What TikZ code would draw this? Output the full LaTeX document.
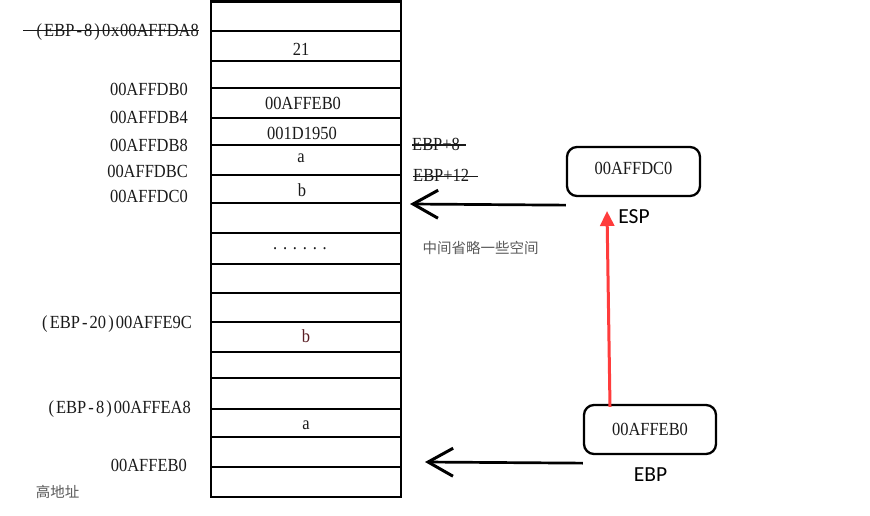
\documentclass[tikz,border=0pt]{standalone}
\usepackage{fontspec}
\setmainfont{Liberation Serif}[FakeStretch=0.89]
\newfontfamily\cjkf{Noto Sans CJK SC}
\newfontfamily\lblf{Carlito}
\usetikzlibrary{arrows.meta}
\definecolor{txt}{HTML}{1A1A1A}
\definecolor{maroon}{HTML}{5A1E24}
\definecolor{redarr}{HTML}{FF3C3C}
\definecolor{cjkgray}{HTML}{5A5A5A}
\newcommand{\widep}[1]{\kern2.1pt#1\kern2.1pt}
\tikzset{
  lbl/.style={font=\fontsize{18.5}{20}\selectfont, inner sep=0pt, text=txt},
  cjk/.style={font=\cjkf\fontsize{14.5}{16}\selectfont, inner sep=0pt, text=cjkgray},
  sl/.style={font=\lblf\fontsize{21.5}{24}\selectfont, inner sep=0pt, text=black},
  cellline/.style={draw=black, line width=2.4pt},
  strike/.style={draw=txt, line width=1.1pt},
  membox/.style={draw=black, line width=2.3pt, rounded corners=10pt,
    font=\fontsize{18.5}{20}\selectfont, text=txt, text height=12.5pt, inner sep=0pt},
  blackarrow/.style={draw=black, line width=2.7pt,
    -{Straight Barb[length=25pt, width=28pt, line width=3pt]}},
  redarrow/.style={draw=redarr, line width=3pt,
    -{Triangle[length=15pt, width=14pt]}}
}
\begin{document}
\begin{tikzpicture}[x=1pt,y=-1pt]
\useasboundingbox[fill=white] (0,0) rectangle (870,516);

% memory column
\foreach \a/\b in {1.5/31,31/61,61/88,88/118,118/145,145/175,175/203,203/233,233/264,264/293,293/322,322/352,352/378,378/409,409/437,437/467,467/497}
  \draw[cellline] (211,\a) rectangle (401,\b);

% cell contents
\node[lbl, anchor=base] (v21) at (301,56) {21};
\node[lbl, anchor=base] (vebp) at (303,110) {00AFFEB0};
\node[lbl, anchor=base] (vret) at (302,140) {001D1950};
\node[lbl, anchor=base] (va1) at (301,162.5) {a};
\node[lbl, anchor=base] (vb1) at (302,196) {b};
\node[lbl, anchor=base] (vdots) at (300,249) {.\kern5.8pt.\kern5.8pt.\kern5.8pt.\kern5.8pt.\kern5.8pt.};
\node[lbl, anchor=base, text=maroon] (vb2) at (306,342.5) {b};
\node[lbl, anchor=base] (va2) at (306,429) {a};

% left address labels
\node[lbl, anchor=base east] (l0) at (199,36.5) {\widep(EBP\widep-8\widep)0\kern0.8pt x\kern0.8pt 00AFFDA8};
\draw[strike] (23,30.7) -- (199,30.7);
\node[lbl, anchor=base east] (l1) at (188,96) {00AFFDB0};
\node[lbl, anchor=base east] (l2) at (188,124) {00AFFDB4};
\node[lbl, anchor=base east] (l3) at (188,151.5) {00AFFDB8};
\node[lbl, anchor=base east] (l4) at (188,177) {00AFFDBC};
\node[lbl, anchor=base east] (l5) at (188,202.5) {00AFFDC0};
\node[lbl, anchor=base east] (l6) at (192,328.5) {\widep(EBP\widep-20\widep)00AFFE9C};
\node[lbl, anchor=base east] (l7) at (191,413) {\widep(EBP\widep-8\widep)00AFFEA8};
\node[lbl, anchor=base east] (l8) at (187,471.5) {00AFFEB0};
\node[cjk] (high) at (57.5,491.5) {高地址};

% right side labels
\node[lbl, anchor=base west] (r1) at (412,150) {EBP+8};
\draw[strike] (412,145) -- (466,145);
\node[lbl, anchor=base west] (r2) at (413,181.5) {EBP+12};
\draw[strike] (413,176.7) -- (478,176.7);
\node[cjk, anchor=west] (omit) at (422.5,248) {中间省略一些空间};

% register boxes
\node[membox, minimum width=133pt, minimum height=49pt, text depth=7.5pt] (espbox) at (633.5,171.5) {00AFFDC0};
\node[sl, anchor=base] (esp) at (634,223.3) {ESP};
\node[membox, minimum width=132pt, minimum height=49pt, text depth=1.5pt] (ebpbox) at (650,429.5) {00AFFEB0};
\node[sl, anchor=base] (ebp) at (650.5,481.5) {EBP};

% arrows
\coordinate (esptip) at (410,204);
\coordinate (ebptip) at (425,462);
\coordinate (redtip) at (607,211);
\draw[blackarrow] ([yshift=-8pt]espbox.south west) -- (esptip);
\draw[blackarrow] ([yshift=-8pt]ebpbox.south west) -- (ebptip);
\draw[redarrow] ([xshift=-40pt,yshift=-3pt]ebpbox.north) -- (redtip);
\end{tikzpicture}
\end{document}
